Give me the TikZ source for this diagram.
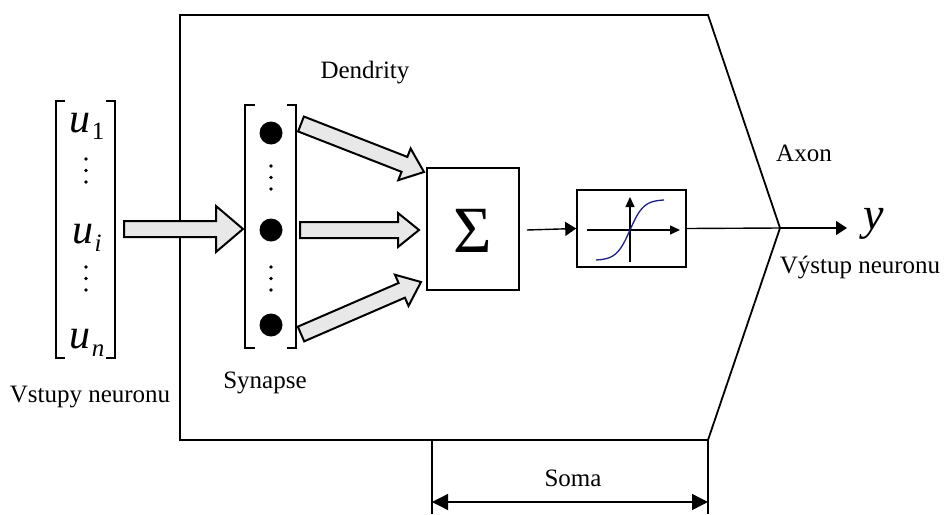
\documentclass[tikz,border=0pt]{standalone}
\usepackage{fontspec}
\setmainfont{Liberation Serif}
\usetikzlibrary{calc,arrows.meta}
\definecolor{arrowfill}{RGB}{232,232,232}
\definecolor{sigblue}{RGB}{30,30,140}
\newcommand\blockarr[5]{% from, to, half shaft, half head, head length
  \coordinate (hb) at ($(#2)!#5!(#1)$);
  \draw[blockstyle] ($(#1)!#3!90:(#2)$) -- ($(hb)!#3!-90:(#1)$) -- ($(hb)!#4!-90:(#1)$) -- (#2)
     -- ($(hb)!#4!90:(#1)$) -- ($(hb)!#3!90:(#1)$) -- ($(#1)!#3!-90:(#2)$) -- cycle;
}
\newcommand\vdotsat[2]{%
  \fill (#1,#2) circle (1.9) (#1,#2+11.5) circle (1.9) (#1,#2+23) circle (1.9);
}
\begin{document}
\begin{tikzpicture}[x=1pt,y=-1pt,line width=1.6pt,
  blockstyle/.style={draw=black,fill=arrowfill,line width=2pt,line join=miter},
  lbl/.style={inner sep=0pt,font=\fontsize{25}{27}\selectfont},
  boxn/.style={draw,line width=1.6pt,inner sep=0pt},
  thin/.style={line width=1.4pt,-{Triangle[length=11pt,width=14pt]}}]
\useasboundingbox (0,0) rectangle (944,514);
% soma body
\draw[line width=1.8pt,line join=miter] (180,15) -- (708,15) -- (780,228) -- (708,440) -- (180,440) -- cycle;
\coordinate (tip) at (780,228);
% soma dimension
\draw[line width=1.4pt] (432,440) -- (432,514) (708,440) -- (708,514);
\coordinate (sl) at (432,502); \coordinate (sr) at (708,502);
\draw[line width=1.4pt,{Triangle[length=16pt,width=16pt]}-{Triangle[length=16pt,width=16pt]}] (sl) -- (sr);
\node[lbl] (soma) at (573,478) {Soma};
% input vector
\draw[line width=1.5pt] (65,101) -- (56,101) -- (56,358) -- (65,358);
\draw[line width=1.5pt] (106,101) -- (115,101) -- (115,358) -- (106,358);
\node[inner sep=0pt,anchor=base] (u1) at (87,132) {\fontsize{42}{42}\selectfont\itshape u\kern1pt\raisebox{-7pt}{\fontsize{25}{25}\selectfont\upshape 1}};
\vdotsat{86}{159}
\node[inner sep=0pt,anchor=base] (ui) at (87,243) {\fontsize{42}{42}\selectfont\itshape u\kern1pt\raisebox{-8pt}{\fontsize{25}{25}\selectfont i}};
\vdotsat{86}{267}
\node[inner sep=0pt,anchor=base] (un) at (87,348) {\fontsize{42}{42}\selectfont\itshape u\kern1pt\raisebox{-8pt}{\fontsize{25}{25}\selectfont n}};
\node[lbl] (vstupy) at (90,397) {Vstupy neuronu};
% input arrow
\coordinate (ia) at (124,229); \coordinate (ib) at (243,229);
\blockarr{ia}{ib}{8pt}{23pt}{27pt}
% synapse vector
\draw[line width=1.5pt] (255,105) -- (245,105) -- (245,348) -- (255,348);
\draw[line width=1.5pt] (287,105) -- (296,105) -- (296,348) -- (287,348);
\fill (271,133) circle (11.5);
\fill (271,230) circle (11.5);
\fill (271,325) circle (11.5);
\vdotsat{271}{166}
\vdotsat{271}{267}
\node[lbl] (syn) at (265,383) {Synapse};
\node[lbl] (dend) at (365,73) {Dendrity};
% sum box
\node[boxn,minimum width=92pt,minimum height=122pt] (sum) at (473,229) {};
\node[inner sep=0pt] (sigma) at (473,231) {\fontsize{66}{66}\selectfont Σ};
% dendrite arrows
\coordinate (d1a) at (301,124); \coordinate (d1b) at (424,172);
\coordinate (d2a) at (300,230); \coordinate (d2b) at (419,230);
\coordinate (d3a) at (301,334); \coordinate (d3b) at (421,282);
\blockarr{d1a}{d1b}{8pt}{17pt}{21pt}
\blockarr{d2a}{d2b}{8pt}{17pt}{21pt}
\blockarr{d3a}{d3b}{8pt}{17pt}{21pt}
% activation box
\node[boxn,minimum width=109pt,minimum height=77pt] (act) at (631.5,228.5) {};
\draw[thin] ($(sum.east)+(7,1)$) -- (act.west);
\draw[line width=1.3pt,-{Triangle[length=10pt,width=9pt]}] (587,230) -- (680,230);
\draw[line width=1.3pt,-{Triangle[length=10pt,width=9pt]}] (630,262) -- (630,197);
\draw[sigblue,line width=1.3pt] plot[domain=-1:1,samples=60,smooth] ({630+34*\x},{230-30*tanh(2.5*\x)/tanh(2.5)});
% axon output
\draw[line width=1.4pt] (act.east) -- (tip);
\coordinate (yend) at (847,228);
\draw[thin] (tip) -- (yend);
\node[inner sep=0pt] (y) at (874,224) {\fontsize{46}{46}\selectfont\itshape y};
\node[lbl] (axon) at (804,153) {Axon};
\node[lbl] (vystup) at (860,268) {Výstup neuronu};
\end{tikzpicture}
\end{document}
